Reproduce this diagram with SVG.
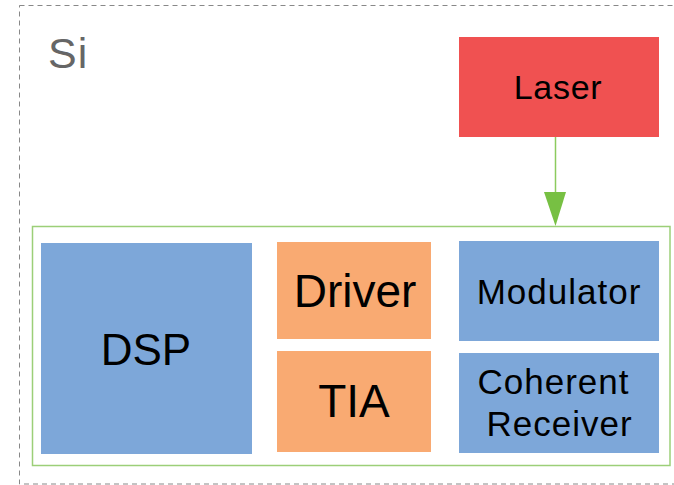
<svg xmlns="http://www.w3.org/2000/svg" width="674" height="485" viewBox="0 0 674 485">
<style>
text{font-family:"Liberation Sans",Arial,sans-serif;fill:#000;text-anchor:middle}
.blue{fill:#7DA7D9}
.orange{fill:#F9AA72}
.red{fill:#F05151}
.sp{letter-spacing:1px}
</style>
<rect x="0" y="0" width="674" height="485" fill="#fff"/>
<g id="si-region">
<rect x="19.5" y="5.5" width="670" height="478.5" fill="none" stroke="#888" stroke-width="1" stroke-dasharray="5,4"/>
<text x="48" y="68" style="text-anchor:start;font-size:43px;fill:#666;letter-spacing:1px">Si</text>
</g>
<g id="package">
<rect x="32.5" y="226.5" width="637.5" height="239" fill="none" stroke="#9CCF78" stroke-width="1.5"/>
</g>
<g id="laser">
<rect class="red" x="459" y="37" width="200" height="100"/>
<text x="558" y="99" font-size="34" style="letter-spacing:0.7px">Laser</text>
</g>
<g id="dsp">
<rect class="blue" x="41" y="243" width="211" height="211"/>
<text x="146" y="364.5" font-size="44">DSP</text>
</g>
<g id="driver">
<rect class="orange" x="277" y="242" width="154" height="97"/>
<text x="355" y="307" font-size="46">Driver</text>
</g>
<g id="tia">
<rect class="orange" x="277" y="351" width="154" height="101"/>
<text x="354" y="417" font-size="46">TIA</text>
</g>
<g id="modulator">
<rect class="blue" x="459" y="241" width="200" height="100"/>
<text class="sp" x="559" y="304" font-size="35">Modulator</text>
</g>
<g id="coherent-receiver">
<rect class="blue" x="459" y="353" width="200" height="100"/>
<text class="sp" x="553.5" y="394" font-size="35">Coherent</text>
<text class="sp" x="559.5" y="435.5" font-size="35">Receiver</text>
</g>
<g id="connectors">
<line x1="555.5" y1="137" x2="555.5" y2="193" stroke="#8CCB5E" stroke-width="1.5"/>
<polygon points="544,192 566,192 555.5,226" fill="#77C043"/>
</g>
</svg>
